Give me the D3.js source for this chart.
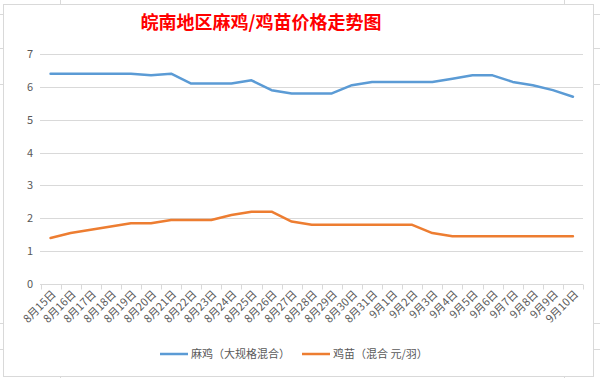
<!DOCTYPE html>
<html>
<head>
<meta charset="utf-8">
<script src="https://cdn.jsdelivr.net/npm/d3@7"></script>
<style>
  body { margin: 0; background: #fff; }
  text { font-family: "Noto Sans CJK SC", "Noto Sans", sans-serif; }
</style>
</head>
<body>
<div id="chart"></div>
<script>
const dates = ["8月15日","8月16日","8月17日","8月18日","8月19日","8月20日","8月21日","8月22日","8月23日",
  "8月24日","8月25日","8月26日","8月27日","8月28日","8月29日","8月30日","8月31日",
  "9月1日","9月2日","9月3日","9月4日","9月5日","9月6日","9月7日","9月8日","9月9日","9月10日"];
const chickenPrice = [6.4,6.4,6.4,6.4,6.4,6.35,6.4,6.1,6.1,6.1,6.2,5.9,5.8,5.8,5.8,6.05,6.15,
  6.15,6.15,6.15,6.25,6.35,6.35,6.15,6.05,5.9,5.7];
const chickPrice = [1.4,1.55,1.65,1.75,1.85,1.85,1.95,1.95,1.95,2.1,2.2,2.2,1.9,1.8,1.8,1.8,1.8,
  1.8,1.8,1.55,1.45,1.45,1.45,1.45,1.45,1.45,1.45];
const yTicks = [0,1,2,3,4,5,6,7];
const seriesNames = ["麻鸡（大规格混合）", "鸡苗（混合 元/羽）"];
const colors = ["#5b9bd5", "#ed7d31"];

const width = 600, height = 378;
const svg = d3.select("#chart").append("svg")
    .attr("width", width)
    .attr("height", height);

// spreadsheet cells behind the chart
const bgGrid = svg.append("g").attr("stroke", "#d9d9d9").attr("stroke-width", 1);
[60, 564].forEach(x => bgGrid.append("line").attr("x1", x + 0.5).attr("x2", x + 0.5).attr("y1", 0).attr("y2", height));
[14, 48, 84, 323, 349].forEach(y => bgGrid.append("line").attr("x1", 0).attr("x2", width).attr("y1", y + 0.5).attr("y2", y + 0.5));

// chart frame
svg.append("rect")
    .attr("x", 3.5).attr("y", 4.5)
    .attr("width", 590).attr("height", 372)
    .attr("fill", "#fff")
    .attr("stroke", "#d9d9d9");

svg.append("text")
    .attr("x", 261)
    .attr("y", 29)
    .attr("text-anchor", "middle")
    .attr("font-size", "18px")
    .attr("font-weight", "bold")
    .attr("fill", "#ff0000")
    .text("皖南地区麻鸡/鸡苗价格走势图");

const x = d3.scaleBand()
    .domain(dates)
    .range([40.5, 583]);

const y = d3.scaleLinear()
    .domain([0, 7])
    .range([284, 54]);

// horizontal gridlines
svg.append("g")
    .selectAll("line")
    .data(yTicks)
    .join("line")
    .attr("x1", 40).attr("x2", 583)
    .attr("y1", d => Math.round(y(d)) + 0.5)
    .attr("y2", d => Math.round(y(d)) + 0.5)
    .attr("stroke", "#d9d9d9");

// y labels
svg.append("g")
    .selectAll("text")
    .data(yTicks)
    .join("text")
    .attr("x", 33)
    .attr("y", d => y(d) + 4)
    .attr("text-anchor", "end")
    .attr("font-size", "11px")
    .attr("fill", "#595959")
    .text(d => d);

// x axis: tick marks sit on the band edges
const y0 = Math.round(y(0)) + 0.5;
svg.append("g")
    .selectAll("line")
    .data(d3.range(dates.length + 1))
    .join("line")
    .attr("x1", i => Math.round(x.range()[0] + i * x.step()) + 0.5)
    .attr("x2", i => Math.round(x.range()[0] + i * x.step()) + 0.5)
    .attr("y1", y0)
    .attr("y2", y0 + 5)
    .attr("stroke", "#d9d9d9");

// x labels, rotated
svg.append("g")
    .selectAll("text")
    .data(dates)
    .join("text")
    .attr("text-anchor", "end")
    .attr("font-size", "11px")
    .attr("fill", "#595959")
    .attr("transform", d => `translate(${x(d) + x.bandwidth() / 2 + 6}, 295) rotate(-45)`)
    .text(d => d);

const line = d3.line()
    .x((d, i) => x(dates[i]) + x.bandwidth() / 2)
    .y(d => y(d));

[chickenPrice, chickPrice].forEach((vals, k) => {
    svg.append("path")
        .datum(vals)
        .attr("fill", "none")
        .attr("stroke", colors[k])
        .attr("stroke-width", 2.5)
        .attr("stroke-linejoin", "round")
        .attr("stroke-linecap", "round")
        .attr("d", line);
});

// legend
const legendX = [160, 302];
seriesNames.forEach((name, k) => {
    const g = svg.append("g").attr("transform", `translate(${legendX[k]}, 354)`);
    g.append("line")
        .attr("x1", 0).attr("x2", 28)
        .attr("stroke", colors[k])
        .attr("stroke-width", 2.5);
    g.append("text")
        .attr("x", 31)
        .attr("y", 4)
        .attr("font-size", "11px")
        .attr("fill", "#595959")
        .text(name);
});
</script>
</body>
</html>
